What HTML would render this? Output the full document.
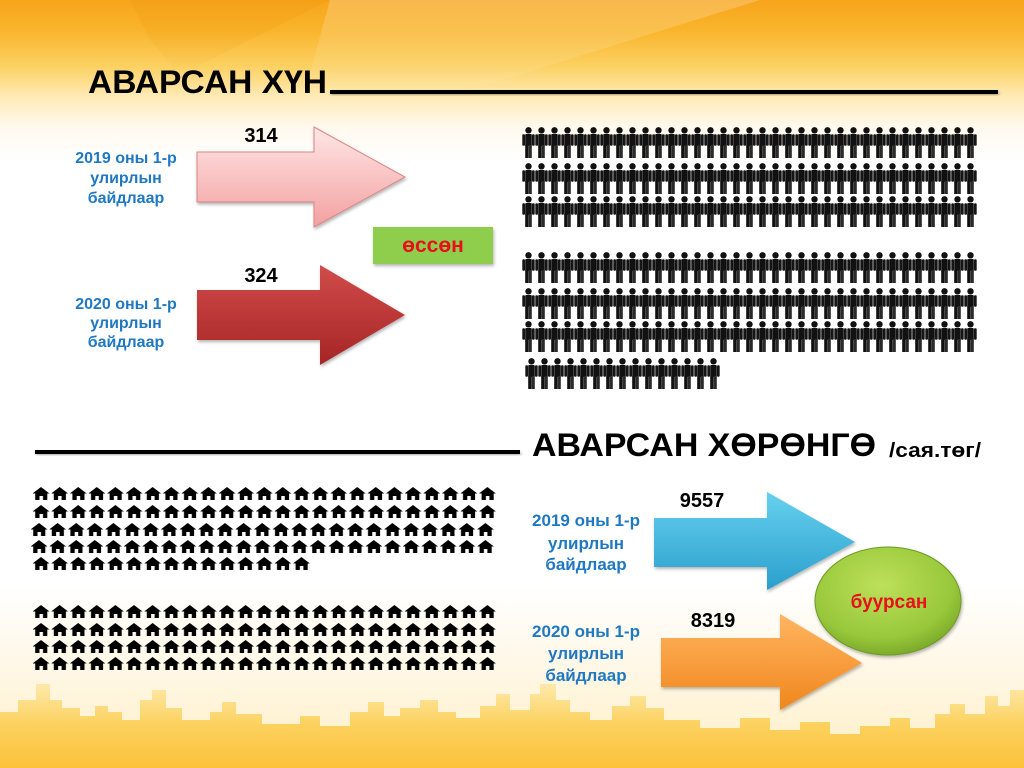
<!DOCTYPE html>
<html><head><meta charset="utf-8"><style>
html,body{margin:0;padding:0;background:#fff;}
svg{display:block;}
text{font-family:"Liberation Sans","Noto Sans CJK SC",sans-serif;font-weight:bold;}
</style></head><body>
<svg width="1024" height="768" viewBox="0 0 1024 768" xmlns="http://www.w3.org/2000/svg">
<defs>
<linearGradient id="bgTop" x1="0" y1="0" x2="0" y2="1">
<stop offset="0" stop-color="#f7a41b"/>
<stop offset="0.04" stop-color="#f9b52c"/>
<stop offset="0.085" stop-color="#fcd060"/>
<stop offset="0.125" stop-color="#feeab4"/>
<stop offset="0.165" stop-color="#fff9ee"/>
<stop offset="0.21" stop-color="#ffffff"/>
<stop offset="0.76" stop-color="#ffffff"/>
<stop offset="0.88" stop-color="#fff7e4"/>
<stop offset="1" stop-color="#feefc4"/>
</linearGradient>
<linearGradient id="sky" x1="0" y1="682" x2="0" y2="768" gradientUnits="userSpaceOnUse">
<stop offset="0" stop-color="#feeaae"/>
<stop offset="0.5" stop-color="#fcd15e"/>
<stop offset="1" stop-color="#fbc23a"/>
</linearGradient>
<linearGradient id="wedge" x1="0" y1="0" x2="0" y2="1">
<stop offset="0" stop-color="#ffffff" stop-opacity="0.22"/>
<stop offset="1" stop-color="#ffffff" stop-opacity="0"/>
</linearGradient>
<linearGradient id="wedge2" x1="0" y1="0" x2="0" y2="1">
<stop offset="0" stop-color="#ef9a10" stop-opacity="0.35"/>
<stop offset="1" stop-color="#ef9a10" stop-opacity="0"/>
</linearGradient>
<linearGradient id="gPink" x1="0" y1="0" x2="0" y2="1">
<stop offset="0" stop-color="#ffe6e6"/>
<stop offset="1" stop-color="#f3a0a0"/>
</linearGradient>
<linearGradient id="gRed" x1="0" y1="0" x2="0" y2="1">
<stop offset="0" stop-color="#d14c4a"/>
<stop offset="1" stop-color="#a62525"/>
</linearGradient>
<linearGradient id="gBlue" x1="0" y1="0" x2="0" y2="1">
<stop offset="0" stop-color="#66d0ee"/>
<stop offset="1" stop-color="#2a9fcc"/>
</linearGradient>
<linearGradient id="gOrange" x1="0" y1="0" x2="0" y2="1">
<stop offset="0" stop-color="#ffb561"/>
<stop offset="1" stop-color="#f0861c"/>
</linearGradient>
<radialGradient id="gEll" cx="0.45" cy="0.35" r="0.7">
<stop offset="0" stop-color="#bde05a"/>
<stop offset="0.7" stop-color="#98c83a"/>
<stop offset="1" stop-color="#74a227"/>
</radialGradient>
<filter id="sh" x="-10%" y="-10%" width="130%" height="140%">
<feDropShadow dx="1" dy="2" stdDeviation="1.5" flood-color="#000" flood-opacity="0.3"/>
</filter>
<pattern id="pp" width="13" height="31" patternUnits="userSpaceOnUse">
<circle cx="6.5" cy="3.3" r="3.2" fill="#111"/>
<rect x="0.3" y="7.2" width="2.7" height="11.5" rx="1" fill="#151515"/>
<rect x="3.2" y="7" width="6.6" height="12" rx="1" fill="#111"/>
<rect x="10" y="7.2" width="2.7" height="11.5" rx="1" fill="#151515"/>
<rect x="3.2" y="18" width="3.2" height="13" fill="#111"/>
<rect x="6.6" y="18" width="3.2" height="13" fill="#2a2a2a"/>
</pattern>
<pattern id="hp" width="18.6" height="13" patternUnits="userSpaceOnUse">
<path d="M8 0 L16.5 6.5 L14.3 6.5 L14.3 13 L10 13 L10 9 L6.5 9 L6.5 13 L2.2 13 L2.2 6.5 L-0.5 6.5 Z" fill="#000"/>
</pattern>
</defs>

<!-- background -->
<rect x="0" y="0" width="1024" height="768" fill="url(#bgTop)"/>
<polygon points="130,0 330,0 180,75 150,40" fill="url(#wedge2)"/>
<polygon points="330,0 760,0 470,90 300,110" fill="url(#wedge)"/>

<!-- skyline -->
<path d="M0,768 L0,712 L18,712 L18,700 L36,700 L36,684 L50,684 L50,700 L62,700 L62,708 L80,708 L80,716 L95,716 L95,706 L108,706 L108,712 L122,712 L122,720 L140,720 L140,700 L152,700 L152,690 L166,690 L166,708 L182,708 L182,720 L210,720 L210,712 L222,712 L222,702 L236,702 L236,714 L262,714 L262,724 L300,724 L300,716 L320,716 L320,726 L350,726 L350,712 L368,712 L368,702 L384,702 L384,716 L400,716 L400,708 L420,708 L420,700 L438,700 L438,712 L456,712 L456,718 L480,718 L480,706 L496,706 L496,694 L510,694 L510,710 L530,710 L530,694 L540,694 L540,684 L556,684 L556,700 L570,700 L570,712 L590,712 L590,720 L612,720 L612,706 L630,706 L630,696 L646,696 L646,708 L664,708 L664,720 L700,720 L700,728 L740,728 L740,718 L770,718 L770,730 L800,730 L800,722 L830,722 L830,734 L860,734 L860,726 L890,726 L890,718 L910,718 L910,728 L935,728 L935,714 L950,714 L950,704 L965,704 L965,714 L985,714 L985,696 L998,696 L998,706 L1010,706 L1010,690 L1024,690 L1024,768 Z" fill="url(#sky)"/>

<!-- heading 1 -->
<text x="88" y="93" font-size="32" fill="#000" textLength="239" lengthAdjust="spacingAndGlyphs">АВАРСАН ХҮН</text>
<rect x="330" y="90" width="668" height="4" fill="#000" filter="url(#sh)"/>

<!-- top labels -->
<g fill="#1f78c1" font-size="16" text-anchor="middle">
<text x="126" y="163">2019 оны 1-р</text>
<text x="126" y="183">улирлын</text>
<text x="126" y="203">байдлаар</text>
<text x="126" y="309">2020 оны 1-р</text>
<text x="126" y="328">улирлын</text>
<text x="126" y="347">байдлаар</text>
</g>

<!-- top arrows -->
<polygon points="197,152 314,152 314,127 405,177 314,227 314,202 197,202" fill="url(#gPink)" stroke="#d98888" stroke-width="1" filter="url(#sh)"/>
<polygon points="197,290 320,290 320,265 405,315 320,365 320,340 197,340" fill="url(#gRed)" filter="url(#sh)"/>
<g fill="#000" font-size="20" text-anchor="middle">
<text x="261" y="142">314</text>
<text x="261" y="282">324</text>
</g>

<!-- green box -->
<rect x="373" y="227" width="120" height="37" fill="#8fce4d" filter="url(#sh)"/>
<text x="433" y="252" font-size="21" fill="#e8101a" text-anchor="middle">өссөн</text>

<!-- people -->
<g transform="translate(522,127)"><rect width="455" height="31" fill="url(#pp)"/></g>
<g transform="translate(522,163)"><rect width="455" height="31" fill="url(#pp)"/></g>
<g transform="translate(522,196)"><rect width="455" height="31" fill="url(#pp)"/></g>
<g transform="translate(522,252)"><rect width="455" height="31" fill="url(#pp)"/></g>
<g transform="translate(522,288)"><rect width="455" height="31" fill="url(#pp)"/></g>
<g transform="translate(522,321)"><rect width="455" height="31" fill="url(#pp)"/></g>
<g transform="translate(525,358)"><rect width="195" height="31" fill="url(#pp)"/></g>

<!-- heading 2 -->
<rect x="35" y="450" width="485" height="4" fill="#000" filter="url(#sh)"/>
<text x="532" y="456" font-size="32" fill="#000" textLength="344" lengthAdjust="spacingAndGlyphs">АВАРСАН ХӨРӨНГӨ</text>
<text x="889" y="457" font-size="20" fill="#000" textLength="92" lengthAdjust="spacingAndGlyphs">/сая.төг/</text>

<!-- houses -->
<g transform="translate(33,487)"><rect width="465" height="13" fill="url(#hp)"/></g>
<g transform="translate(33,505)"><rect width="465" height="13" fill="url(#hp)"/></g>
<g transform="translate(31,523)"><rect width="465" height="13" fill="url(#hp)"/></g>
<g transform="translate(31,540)"><rect width="465" height="13" fill="url(#hp)"/></g>
<g transform="translate(33,557)"><rect width="279" height="13" fill="url(#hp)"/></g>

<g transform="translate(33,605)"><rect width="465" height="13" fill="url(#hp)"/></g>
<g transform="translate(33,623)"><rect width="465" height="13" fill="url(#hp)"/></g>
<g transform="translate(33,640)"><rect width="465" height="13" fill="url(#hp)"/></g>
<g transform="translate(33,657)"><rect width="465" height="13" fill="url(#hp)"/></g>

<!-- bottom labels -->
<g fill="#1f78c1" font-size="17" text-anchor="middle">
<text x="586" y="526">2019 оны 1-р</text>
<text x="586" y="549">улирлын</text>
<text x="586" y="570">байдлаар</text>
<text x="586" y="637">2020 оны 1-р</text>
<text x="586" y="659">улирлын</text>
<text x="586" y="681">байдлаар</text>
</g>

<!-- bottom arrows -->
<polygon points="654,518 767,518 767,492 855,542 767,590 767,567 654,567" fill="url(#gBlue)" filter="url(#sh)"/>
<polygon points="661,638 780,638 780,614 862,663 780,710 780,687 661,687" fill="url(#gOrange)" filter="url(#sh)"/>
<g fill="#000" font-size="20" text-anchor="middle">
<text x="702" y="507">9557</text>
<text x="713" y="627">8319</text>
</g>

<!-- ellipse -->
<ellipse cx="888" cy="601" rx="73" ry="54" fill="url(#gEll)" stroke="#6f9a26" stroke-width="1" filter="url(#sh)"/>
<text x="889" y="608" font-size="19" fill="#e8101a" text-anchor="middle">буурсан</text>
</svg>
</body></html>
